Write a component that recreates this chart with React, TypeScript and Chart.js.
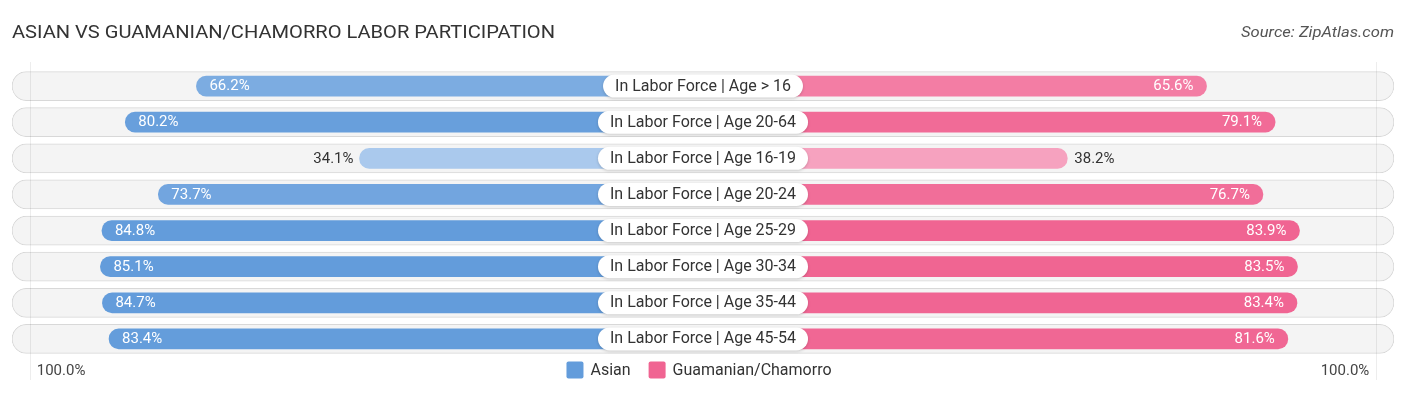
import React, { useEffect, useRef } from "react";
import { Chart, registerables } from "chart.js";

Chart.register(...registerables);

const TITLE = "ASIAN VS GUAMANIAN/CHAMORRO LABOR PARTICIPATION";
const SOURCE = "Source: ZipAtlas.com";
const CATEGORIES = [
  "In Labor Force | Age > 16",
  "In Labor Force | Age 20-64",
  "In Labor Force | Age 16-19",
  "In Labor Force | Age 20-24",
  "In Labor Force | Age 25-29",
  "In Labor Force | Age 30-34",
  "In Labor Force | Age 35-44",
  "In Labor Force | Age 45-54",
];
const ASIAN = [66.2, 80.2, 34.1, 73.7, 84.8, 85.1, 84.7, 83.4];
const GUAM = [65.6, 79.1, 38.2, 76.7, 83.9, 83.5, 83.4, 81.6];
const SERIES_NAMES = ["Asian", "Guamanian/Chamorro"];
const AXIS_LABEL = "100.0%";
const AXIS_VALUE = 100;

// layout constants (not data)
const OFFSET = 33.5;
const AXIS_MAX = 136;
const W = 1406;
const H = 395;
const FONT = "Roboto, 'Noto Sans', sans-serif";

function mix(a: number[], b: number[], t: number) {
  const c = a.map((v, i) => Math.round(v + (b[i] - v) * t));
  return `rgb(${c[0]},${c[1]},${c[2]})`;
}
const BLUE_LIGHT = [170, 201, 237];
const BLUE_FULL = [99, 156, 219];
const PINK_LIGHT = [247, 168, 195];
const PINK_FULL = [240, 100, 146];
function shade(v: number, light: number[], full: number[]) {
  const t = Math.max(0, Math.min(1, (v - 34) / 50));
  return mix(light, full, t);
}

function roundRect(ctx: CanvasRenderingContext2D, x: number, y: number, w: number, h: number, r: number) {
  ctx.beginPath();
  ctx.moveTo(x + r, y);
  ctx.lineTo(x + w - r, y);
  ctx.arc(x + w - r, y + r, r, -Math.PI / 2, 0);
  ctx.lineTo(x + w, y + h - r);
  ctx.arc(x + w - r, y + h - r, r, 0, Math.PI / 2);
  ctx.lineTo(x + r, y + h);
  ctx.arc(x + r, y + h - r, r, Math.PI / 2, Math.PI);
  ctx.lineTo(x, y + r);
  ctx.arc(x + r, y + r, r, Math.PI, Math.PI * 1.5);
  ctx.closePath();
}

function fitText(ctx: CanvasRenderingContext2D, text: string, x: number, y: number, width: number, align: "left" | "right") {
  const tw = ctx.measureText(text).width;
  const sx = width / tw;
  ctx.save();
  ctx.textAlign = "left";
  const startX = align === "left" ? x : x - width;
  ctx.translate(startX, y);
  ctx.scale(sx, 1);
  ctx.fillText(text, 0, 0);
  ctx.restore();
}

const labelPlugin = {
  id: "labelPlugin",
  afterDatasetsDraw(chart: any) {
    const ctx: CanvasRenderingContext2D = chart.ctx;
    const xs = chart.scales.x;
    const ys = chart.scales.y;
    ctx.save();

    // faint reference lines
    ctx.strokeStyle = "rgba(0,0,0,0.07)";
    ctx.lineWidth = 1;
    [30.5, 1376.5].forEach((lx) => {
      ctx.beginPath();
      ctx.moveTo(lx, 62);
      ctx.lineTo(lx, 380);
      ctx.stroke();
    });

    CATEGORIES.forEach((cat, i) => {
      const y = ys.getPixelForValue(i);
      const cx = xs.getPixelForValue(0);
      // center label
      ctx.font = `16px ${FONT}`;
      const tw = ctx.measureText(cat).width;
      const bw = tw + 24;
      const bh = 23;
      ctx.save();
      ctx.shadowColor = "rgba(0,0,0,0.18)";
      ctx.shadowBlur = 3;
      ctx.shadowOffsetY = 1;
      ctx.fillStyle = "#ffffff";
      roundRect(ctx, cx - bw / 2, y - bh / 2, bw, bh, bh / 2);
      ctx.fill();
      ctx.restore();
      ctx.fillStyle = "#333333";
      ctx.textAlign = "center";
      ctx.textBaseline = "middle";
      ctx.fillText(cat, cx, y + 0.5);

      // values
      ctx.font = `15px ${FONT}`;
      const a = ASIAN[i];
      const ax = xs.getPixelForValue(-(a + OFFSET));
      if (a > 50) {
        ctx.fillStyle = "#ffffff";
        ctx.textAlign = "left";
        ctx.fillText(a.toFixed(1) + "%", ax + 13, y + 0.5);
      } else {
        ctx.fillStyle = "#333333";
        ctx.textAlign = "right";
        ctx.fillText(a.toFixed(1) + "%", ax - 6, y + 0.5);
      }
      const g = GUAM[i];
      const gx = xs.getPixelForValue(g + OFFSET);
      if (g > 50) {
        ctx.fillStyle = "#ffffff";
        ctx.textAlign = "right";
        ctx.fillText(g.toFixed(1) + "%", gx - 13, y + 0.5);
      } else {
        ctx.fillStyle = "#333333";
        ctx.textAlign = "left";
        ctx.fillText(g.toFixed(1) + "%", gx + 7, y + 0.5);
      }
    });

    // title & source
    ctx.textBaseline = "middle";
    ctx.fillStyle = "#333333";
    ctx.font = `18px ${FONT}`;
    fitText(ctx, TITLE, 12, 33, 543, "left");
    ctx.fillStyle = "#555555";
    ctx.font = `italic 15px ${FONT}`;
    fitText(ctx, SOURCE, 1394, 33, 153, "right");

    // axis labels
    ctx.font = `15px ${FONT}`;
    ctx.fillStyle = "#444444";
    ctx.textAlign = "left";
    ctx.fillText(AXIS_LABEL, xs.getPixelForValue(-(AXIS_VALUE + OFFSET)) + 12, 371);
    ctx.textAlign = "right";
    ctx.fillText(AXIS_LABEL, xs.getPixelForValue(AXIS_VALUE + OFFSET) - 12, 371);

    // legend
    ctx.font = `16px ${FONT}`;
    const sq = 17;
    const gap = 7;
    const between = 18;
    const t1 = ctx.measureText(SERIES_NAMES[0]).width;
    const t2 = ctx.measureText(SERIES_NAMES[1]).width;
    const total = sq + gap + t1 + between + sq + gap + t2;
    let lx = 699 - total / 2;
    const ly = 370;
    const colors = [shade(90, BLUE_LIGHT, BLUE_FULL), shade(90, PINK_LIGHT, PINK_FULL)];
    [t1, t2].forEach((tw, k) => {
      ctx.fillStyle = colors[k];
      roundRect(ctx, lx, ly - sq / 2, sq, sq, 2);
      ctx.fill();
      lx += sq + gap;
      ctx.fillStyle = "#333333";
      ctx.textAlign = "left";
      ctx.fillText(SERIES_NAMES[k], lx, ly + 0.5);
      lx += tw + between;
    });

    ctx.restore();
  },
};

export default function App() {
  const ref = useRef<HTMLCanvasElement | null>(null);
  useEffect(() => {
    if (!ref.current) return;
    const chart = new Chart(ref.current, {
      type: "bar",
      data: {
        labels: CATEGORIES,
        datasets: [
          {
            label: SERIES_NAMES[0],
            data: ASIAN.map((v) => [-(v + OFFSET), 0]) as any,
            backgroundColor: ASIAN.map((v) => shade(v, BLUE_LIGHT, BLUE_FULL)),
            borderRadius: 10,
            borderSkipped: false,
            barThickness: 20,
            grouped: false,
            order: 1,
          } as any,
          {
            label: SERIES_NAMES[1],
            data: GUAM.map((v) => [0, v + OFFSET]) as any,
            backgroundColor: GUAM.map((v) => shade(v, PINK_LIGHT, PINK_FULL)),
            borderRadius: 10,
            borderSkipped: false,
            barThickness: 20,
            grouped: false,
            order: 1,
          } as any,
          {
            label: "track",
            data: CATEGORIES.map(() => [-AXIS_MAX, AXIS_MAX]) as any,
            backgroundColor: "#f4f4f4",
            borderColor: "#d8d8d8",
            borderWidth: 1,
            borderRadius: 15,
            borderSkipped: false,
            barThickness: 29,
            grouped: false,
            order: 10,
          } as any,
        ],
      },
      options: {
        indexAxis: "y",
        responsive: false,
        animation: false,
        layout: { padding: { left: 12, right: 12, top: 68, bottom: 38 } },
        scales: {
          x: { type: "linear", min: -AXIS_MAX, max: AXIS_MAX, display: false },
          y: { type: "category", display: false },
        },
        plugins: {
          legend: { display: false },
          tooltip: { enabled: false },
          title: { display: false },
        },
      },
      plugins: [labelPlugin],
    });
    return () => chart.destroy();
  }, []);
  return (
    <div style={{ position: "absolute", left: 0, top: 0, width: W, height: H, background: "#fff" }}>
      <canvas ref={ref} width={W} height={H} style={{ display: "block", width: W, height: H }} />
    </div>
  );
}
